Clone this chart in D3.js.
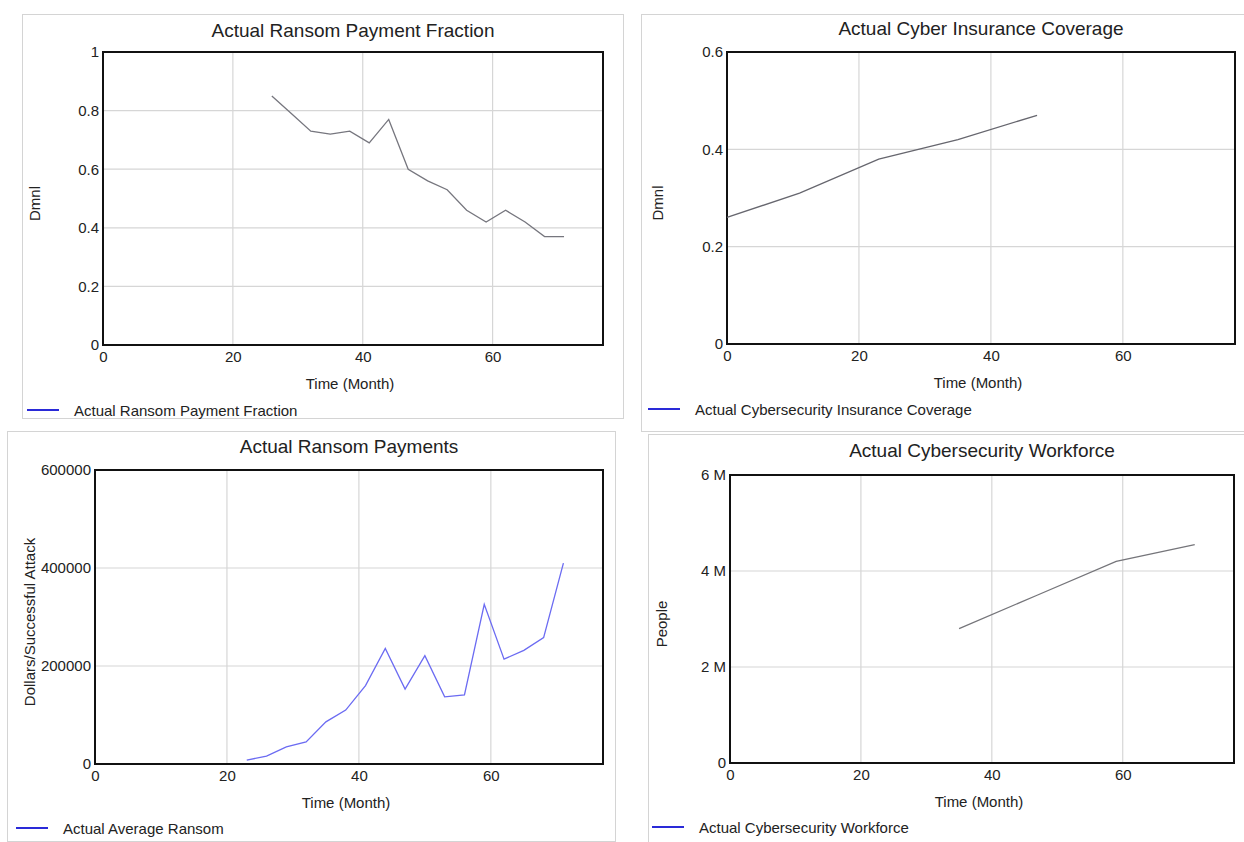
<!DOCTYPE html>
<html><head><meta charset="utf-8">
<script src="https://cdn.jsdelivr.net/npm/d3@7"></script>
<style>
html,body{margin:0;padding:0;background:#fff;}
svg{display:block;font-family:"Liberation Sans",Arial,sans-serif;}
</style></head>
<body>
<svg id="chart" width="1244" height="842"></svg>
<script>
// ---- data ----
const xTicks = [0, 20, 40, 60];
const xMax = 77;

const fractionTime  = [26, 29, 32, 35, 38, 41, 44, 47, 50, 53, 56, 59, 62, 65, 68, 71];
const fractionValue = [0.85, 0.79, 0.73, 0.72, 0.73, 0.69, 0.77, 0.60, 0.56, 0.53, 0.46, 0.42, 0.46, 0.42, 0.37, 0.37];
const fractionTicks = [0, 0.2, 0.4, 0.6, 0.8, 1];
const fractionTickLabels = ["0", "0.2", "0.4", "0.6", "0.8", "1"];

const insuranceTime  = [0, 11, 23, 35, 47];
const insuranceValue = [0.26, 0.31, 0.38, 0.42, 0.47];
const insuranceTicks = [0, 0.2, 0.4, 0.6];
const insuranceTickLabels = ["0", "0.2", "0.4", "0.6"];

const ransomTime  = [23, 26, 29, 32, 35, 38, 41, 44, 47, 50, 53, 56, 59, 62, 65, 68, 71];
const ransomValue = [8000, 16000, 35000, 45000, 86000, 110000, 160000, 236000, 153000, 221000, 137000, 141000, 326000, 214000, 232000, 258000, 410000];
const ransomTicks = [0, 200000, 400000, 600000];
const ransomTickLabels = ["0", "200000", "400000", "600000"];

const workforceTime  = [35, 47, 59, 71];
const workforceValue = [2800000, 3500000, 4200000, 4550000];
const workforceTicks = [0, 2000000, 4000000, 6000000];
const workforceTickLabels = ["0", "2 M", "4 M", "6 M"];

const titles = ["Actual Ransom Payment Fraction", "Actual Cyber Insurance Coverage", "Actual Ransom Payments", "Actual Cybersecurity Workforce"];
const yLabels = ["Dmnl", "Dmnl", "Dollars/Successful Attack", "People"];
const legendLabels = ["Actual Ransom Payment Fraction", "Actual Cybersecurity Insurance Coverage", "Actual Average Ransom", "Actual Cybersecurity Workforce"];
const xLabel = "Time (Month)";

// ---- layout ----
const panels = [
  {border:[22,14,623,418], frame:[103,52,603,345], time:fractionTime, values:fractionValue, ticks:fractionTicks, tickLabels:fractionTickLabels, yMax:1,
   color:"#76767e", title:titles[0], titleY:30, yLabel:yLabels[0], yLabelX:34, legend:legendLabels[0], legendX:27, legendY:410},
  {border:[641,14,1250,431], frame:[727,52,1235,344], time:insuranceTime, values:insuranceValue, ticks:insuranceTicks, tickLabels:insuranceTickLabels, yMax:0.6,
   color:"#66666e", title:titles[1], titleY:28, yLabel:yLabels[1], yLabelX:657, legend:legendLabels[1], legendX:648, legendY:409},
  {border:[7,431,615,841], frame:[95,470,603,764], time:ransomTime, values:ransomValue, ticks:ransomTicks, tickLabels:ransomTickLabels, yMax:600000,
   color:"#6b6bf2", title:titles[2], titleY:446, yLabel:yLabels[2], yLabelX:29, legend:legendLabels[2], legendX:16, legendY:828},
  {border:[648,434,1250,846], frame:[730,475,1234,763], time:workforceTime, values:workforceValue, ticks:workforceTicks, tickLabels:workforceTickLabels, yMax:6000000,
   color:"#75757a", title:titles[3], titleY:450, yLabel:yLabels[3], yLabelX:661, legend:legendLabels[3], legendX:652, legendY:827}
];

const svg = d3.select("#chart");

panels.forEach(p => {
  const g = svg.append("g");
  const [bx0, by0, bx1, by1] = p.border;
  g.append("rect").attr("x", bx0 + 0.5).attr("y", by0 + 0.5)
    .attr("width", bx1 - bx0).attr("height", by1 - by0)
    .attr("fill", "#fff").attr("stroke", "#d4d4d4").attr("stroke-width", 1);

  const [fx0, fy0, fx1, fy1] = p.frame;
  const x = d3.scaleLinear().domain([0, xMax]).range([fx0, fx1]);
  const y = d3.scaleLinear().domain([0, p.yMax]).range([fy1, fy0]);

  // grid
  g.append("g").selectAll("line").data(xTicks.filter(t => t > 0)).join("line")
    .attr("x1", d => x(d)).attr("x2", d => x(d)).attr("y1", fy0).attr("y2", fy1)
    .attr("stroke", "#d6d6d6").attr("stroke-width", 1.2);
  g.append("g").selectAll("line").data(p.ticks.filter(t => t > 0 && t < p.yMax)).join("line")
    .attr("x1", fx0).attr("x2", fx1).attr("y1", d => y(d)).attr("y2", d => y(d))
    .attr("stroke", "#d6d6d6").attr("stroke-width", 1.2);

  // axes (labels only, via d3 axis)
  const xAxis = d3.axisBottom(x).tickValues(xTicks).tickSize(0).tickPadding(6).tickFormat(d3.format("d"));
  const xg = g.append("g").attr("transform", `translate(0,${fy1})`).call(xAxis);
  xg.select(".domain").remove();
  xg.selectAll("text").attr("font-size", 15).attr("fill", "#222").attr("font-family", "Liberation Sans, Arial, sans-serif");

  const yAxis = d3.axisLeft(y).tickValues(p.ticks).tickSize(0).tickPadding(4)
    .tickFormat((d, i) => p.tickLabels[i]);
  const yg = g.append("g").attr("transform", `translate(${fx0},0)`).call(yAxis);
  yg.select(".domain").remove();
  yg.selectAll("text").attr("font-size", 15).attr("fill", "#222").attr("font-family", "Liberation Sans, Arial, sans-serif");

  // frame
  g.append("rect").attr("x", fx0).attr("y", fy0).attr("width", fx1 - fx0).attr("height", fy1 - fy0)
    .attr("fill", "none").attr("stroke", "#111").attr("stroke-width", 2);

  // series line
  const pts = p.time.map((t, i) => [t, p.values[i]]);
  g.append("path").datum(pts)
    .attr("d", d3.line().x(d => x(d[0])).y(d => y(d[1])))
    .attr("fill", "none").attr("stroke", p.color).attr("stroke-width", 1.3);

  // title
  g.append("text").attr("x", (fx0 + fx1) / 2).attr("y", p.titleY).attr("text-anchor", "middle")
    .attr("dominant-baseline", "central").attr("font-size", 19).attr("fill", "#222").text(p.title);

  // x label
  g.append("text").attr("x", (fx0 + fx1) / 2 - 3).attr("y", fy1 + 38).attr("text-anchor", "middle")
    .attr("dominant-baseline", "central").attr("font-size", 15).attr("fill", "#222").text(xLabel);

  // y label
  g.append("text").attr("transform", `translate(${p.yLabelX},${(fy0 + fy1) / 2 + 5}) rotate(-90)`)
    .attr("text-anchor", "middle").attr("dominant-baseline", "central")
    .attr("font-size", 15).attr("fill", "#222").text(p.yLabel);

  // legend
  g.append("line").attr("x1", p.legendX).attr("x2", p.legendX + 32)
    .attr("y1", p.legendY).attr("y2", p.legendY).attr("stroke", "#2a2ad8").attr("stroke-width", 2);
  g.append("text").attr("x", p.legendX + 47).attr("y", p.legendY).attr("dominant-baseline", "central")
    .attr("font-size", 15).attr("fill", "#222").text(p.legend);
});
</script>
</body></html>
